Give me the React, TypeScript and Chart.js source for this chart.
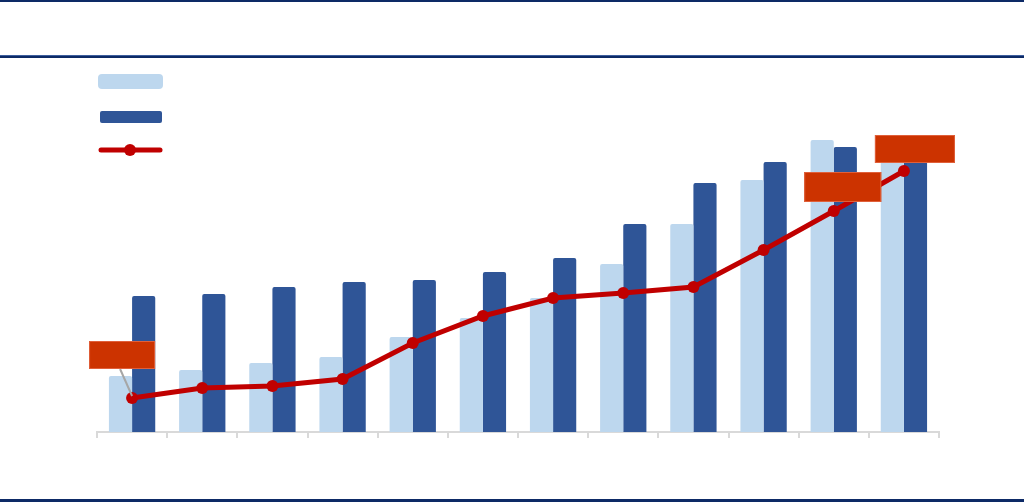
import { useEffect, useRef } from 'react';
import { Chart, registerables } from 'chart.js';
import type { Plugin } from 'chart.js';

Chart.register(...registerables);

// 12 periods, the reference shows no category text
const categories = ['1', '2', '3', '4', '5', '6', '7', '8', '9', '10', '11', '12'];
const seriesLight = [28, 31, 34.5, 37.5, 47.5, 57, 67, 84, 104, 126, 146, 141];
const seriesDark = [68, 69, 72.5, 75, 76, 80, 87, 104, 124.5, 135, 142.5, 141];
const seriesLine = [17, 22, 23, 26.5, 44.5, 58, 67, 69.5, 72.5, 91, 110.5, 130.5];
// points that carry a callout box (labels are blank in the reference)
const calloutIndex = [0, 10, 11];

const LIGHT = '#BDD7EE';
const DARK = '#2F5597';
const RED = '#C00000';
const CALLOUT = '#CC3300';
const NAVY = '#0D2A66';

// box placement relative to the point: dx, dy of box centre, width, height
const calloutBoxes: Record<number, [number, number, number, number]> = {
  0: [-10, -43, 66, 28],
  10: [9, -24, 77, 30],
  11: [11, -22, 80, 28],
};

const calloutPlugin: Plugin<'bar'> = {
  id: 'callouts',
  afterDatasetsDraw(chart) {
    const ctx = chart.ctx;
    const meta = chart.getDatasetMeta(2);
    ctx.save();
    calloutIndex.forEach((i) => {
      const pt = meta.data[i];
      if (!pt) return;
      const [dx, dy, w, h] = calloutBoxes[i];
      const cx = pt.x + dx;
      const cy = pt.y + dy;
      if (i === 0) {
        ctx.strokeStyle = '#A6A6A6';
        ctx.lineWidth = 2;
        ctx.beginPath();
        ctx.moveTo(cx - 2, cy + h / 2);
        ctx.lineTo(pt.x, pt.y - 2);
        ctx.stroke();
      }
      ctx.fillStyle = CALLOUT;
      ctx.fillRect(cx - w / 2, cy - h / 2, w, h);
      ctx.strokeStyle = '#E0603A';
      ctx.lineWidth = 1;
      ctx.strokeRect(cx - w / 2 + 0.5, cy - h / 2 + 0.5, w - 1, h - 1);
    });
    ctx.restore();
  },
};

const legendPlugin: Plugin<'bar'> = {
  id: 'sideLegend',
  afterDraw(chart) {
    const ctx = chart.ctx;
    ctx.save();
    ctx.fillStyle = LIGHT;
    ctx.beginPath();
    ctx.roundRect(98, 74, 65, 15, 4);
    ctx.fill();
    ctx.fillStyle = DARK;
    ctx.beginPath();
    ctx.roundRect(100, 111, 62, 12, 2);
    ctx.fill();
    ctx.strokeStyle = RED;
    ctx.lineWidth = 5;
    ctx.lineCap = 'round';
    ctx.beginPath();
    ctx.moveTo(101, 150);
    ctx.lineTo(160, 150);
    ctx.stroke();
    ctx.fillStyle = RED;
    ctx.beginPath();
    ctx.arc(130, 150, 6, 0, Math.PI * 2);
    ctx.fill();
    ctx.restore();
  },
};

export default function App() {
  const canvasRef = useRef<HTMLCanvasElement>(null);
  const chartRef = useRef<Chart | null>(null);

  useEffect(() => {
    document.body.style.margin = '0';
    if (!canvasRef.current) return;
    if (chartRef.current) chartRef.current.destroy();

    chartRef.current = new Chart(canvasRef.current, {
      type: 'bar',
      data: {
        labels: categories,
        datasets: [
          {
            label: '',
            data: seriesLight,
            backgroundColor: LIGHT,
            borderRadius: 2,
            categoryPercentage: 0.66,
            barPercentage: 1,
            order: 1,
          },
          {
            label: '',
            data: seriesDark,
            backgroundColor: DARK,
            borderRadius: 2,
            categoryPercentage: 0.66,
            barPercentage: 1,
            order: 1,
          },
          {
            type: 'line',
            label: '',
            data: seriesLine,
            borderColor: RED,
            backgroundColor: RED,
            borderWidth: 5,
            pointRadius: 6,
            pointHoverRadius: 6,
            pointBackgroundColor: RED,
            pointBorderWidth: 0,
            tension: 0,
            order: 0,
          } as any,
        ],
      },
      options: {
        responsive: false,
        animation: false,
        layout: { padding: { left: 97, right: 85, top: 72, bottom: 64 } },
        plugins: {
          legend: { display: false },
          tooltip: { enabled: false },
        },
        scales: {
          x: {
            grid: {
              drawOnChartArea: false,
              color: '#D9D9D9',
              lineWidth: 2,
              tickLength: 6,
              offset: true,
            },
            border: { color: '#D9D9D9', width: 2 },
            ticks: { display: false },
          },
          y: {
            display: false,
            min: 0,
            max: 180,
          },
        },
      },
      plugins: [calloutPlugin, legendPlugin],
    });

    return () => {
      chartRef.current?.destroy();
      chartRef.current = null;
    };
  }, []);

  return (
    <div style={{ position: 'relative', width: 1024, height: 502, background: '#fff', overflow: 'hidden' }}>
      <div style={{ position: 'absolute', left: 0, top: 0, width: 1024, height: 2, background: NAVY }} />
      <div style={{ position: 'absolute', left: 0, top: 55, width: 1024, height: 1, background: '#3E5F9E' }} />
      <div style={{ position: 'absolute', left: 0, top: 56, width: 1024, height: 2, background: NAVY }} />
      <div style={{ position: 'absolute', left: 0, top: 499, width: 1024, height: 3, background: NAVY }} />
      <canvas ref={canvasRef} width={1024} height={502} style={{ position: 'absolute', left: 0, top: 0 }} />
    </div>
  );
}
